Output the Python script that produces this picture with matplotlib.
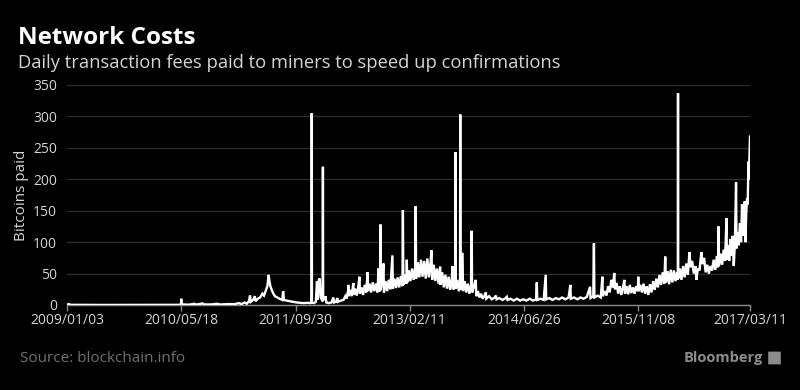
import matplotlib
matplotlib.use("Agg")
import matplotlib.pyplot as plt
import matplotlib.patches as mpatches
import pandas as pd

# ---------------- data ----------------
dates_early = ["2009-01-03", "2009-01-09", "2009-01-20", "2009-06-01", "2009-12-01",
               "2010-05-10", "2010-05-17", "2010-05-18", "2010-05-19", "2010-06-20",
               "2010-07-15", "2010-07-22", "2010-08-20", "2010-08-27", "2010-10-01",
               "2010-10-20", "2010-11-05", "2010-12-10", "2011-01-05", "2011-01-25",
               "2011-02-05", "2011-02-20", "2011-03-01"]
fees_early = [0, 1.5, 0.3, 0.1, 0.2,
              0.3, 0.5, 10, 1, 0.5,
              2, 0.6, 2.5, 0.8, 1,
              2, 0.8, 1.5, 1.2, 3,
              1.5, 4, 2]

dates_2011 = ["2011-03-10", "2011-03-15", "2011-03-18", "2011-03-28", "2011-04-05",
              "2011-04-08", "2011-04-18", "2011-04-28", "2011-05-08", "2011-05-15",
              "2011-05-24", "2011-05-30", "2011-06-04", "2011-06-08", "2011-06-12",
              "2011-06-18", "2011-06-25", "2011-07-02", "2011-07-12", "2011-07-22",
              "2011-08-03", "2011-08-07", "2011-08-10", "2011-08-22", "2011-09-05",
              "2011-09-20", "2011-10-05", "2011-10-20", "2011-11-05", "2011-11-20",
              "2011-12-05", "2011-12-09", "2011-12-10", "2011-12-11", "2011-12-20",
              "2011-12-28", "2012-01-02", "2012-01-05", "2012-01-10", "2012-01-14",
              "2012-01-18", "2012-01-24", "2012-01-27", "2012-01-28", "2012-01-29",
              "2012-02-05", "2012-02-08", "2012-02-12", "2012-02-22", "2012-03-05",
              "2012-03-14", "2012-03-16", "2012-03-25", "2012-03-31", "2012-04-03",
              "2012-04-15", "2012-04-27", "2012-05-05"]
fees_2011 = [6, 15, 5, 8, 14,
             6, 10, 12, 18, 15,
             24, 30, 48, 38, 30,
             24, 18, 14, 12, 10,
             8, 22, 8, 7, 6,
             5, 4, 3.5, 3, 3.5,
             3, 4, 305, 4, 3,
             5, 38, 8, 40, 42,
             12, 8, 6, 220, 8,
             10, 14, 4, 3, 4,
             12, 4, 5, 11, 5,
             7, 8, 14]

dates_2012 = ["2012-05-10", "2012-05-17", "2012-05-18", "2012-05-19", "2012-05-26",
              "2012-06-02", "2012-06-09", "2012-06-10", "2012-06-17", "2012-06-24",
              "2012-07-01", "2012-07-06", "2012-07-08", "2012-07-15", "2012-07-22",
              "2012-07-29", "2012-08-05", "2012-08-10", "2012-08-12", "2012-08-19",
              "2012-08-26", "2012-09-02", "2012-09-09", "2012-09-16", "2012-09-23",
              "2012-09-27", "2012-09-29", "2012-10-05", "2012-10-06", "2012-10-07",
              "2012-10-13", "2012-10-19", "2012-10-21", "2012-10-28", "2012-11-04",
              "2012-11-11", "2012-11-18", "2012-11-27", "2012-11-29", "2012-12-06",
              "2012-12-13", "2012-12-20", "2012-12-27"]
fees_2012 = [10, 22, 32, 14, 24,
             14, 35, 16, 26, 15,
             30, 45, 18, 28, 16,
             32, 20, 52, 22, 34,
             20, 36, 22, 34, 20,
             58, 24, 22, 128, 25,
             36, 66, 20, 38, 22,
             40, 25, 79, 26, 42,
             27, 44, 28]

dates_2013 = ["2013-01-03", "2013-01-10", "2013-01-12", "2013-01-14", "2013-01-21",
              "2013-01-28", "2013-01-29", "2013-01-31", "2013-02-07", "2013-02-14",
              "2013-02-21", "2013-02-28", "2013-03-07", "2013-03-09", "2013-03-11",
              "2013-03-18", "2013-03-25", "2013-04-01", "2013-04-08", "2013-04-15",
              "2013-04-22", "2013-04-29", "2013-05-06", "2013-05-13", "2013-05-17",
              "2013-05-20", "2013-05-27", "2013-06-03", "2013-06-10", "2013-06-17",
              "2013-06-24", "2013-06-26", "2013-07-03", "2013-07-10", "2013-07-17",
              "2013-07-24", "2013-07-31", "2013-08-07", "2013-08-14", "2013-08-17",
              "2013-08-20", "2013-08-29", "2013-08-30", "2013-08-31", "2013-09-07",
              "2013-09-14", "2013-09-19", "2013-09-20", "2013-09-21", "2013-09-30",
              "2013-10-02", "2013-10-09", "2013-10-16", "2013-10-23", "2013-10-30",
              "2013-11-06", "2013-11-09", "2013-11-11", "2013-11-18", "2013-11-27",
              "2013-11-29", "2013-12-06", "2013-12-13", "2013-12-20", "2013-12-27"]
fees_2013 = [46, 30, 151, 32, 48,
             34, 72, 36, 55, 38,
             58, 40, 60, 157, 42,
             68, 44, 72, 45, 70,
             42, 74, 44, 68, 87,
             40, 64, 38, 58, 34,
             61, 32, 52, 28, 48,
             26, 45, 24, 42, 62,
             25, 28, 243, 26, 40,
             22, 30, 303, 24, 83,
             22, 38, 20, 34, 18,
             32, 118, 20, 28, 40,
             14, 22, 12, 18, 10]

dates_2014 = ["2014-01-03", "2014-01-10", "2014-01-12", "2014-01-24", "2014-02-05",
              "2014-02-18", "2014-02-23", "2014-02-26", "2014-03-10", "2014-03-24",
              "2014-04-07", "2014-04-12", "2014-04-15", "2014-04-28", "2014-05-12",
              "2014-05-26", "2014-06-09", "2014-06-23", "2014-07-07", "2014-07-21",
              "2014-08-04", "2014-08-18", "2014-08-21", "2014-08-23", "2014-09-06",
              "2014-09-20", "2014-09-29", "2014-10-01", "2014-10-15", "2014-10-29",
              "2014-11-12", "2014-11-26", "2014-12-10", "2014-12-24", "2015-01-07",
              "2015-01-15", "2015-01-17", "2015-01-31", "2015-02-14", "2015-02-28",
              "2015-03-14", "2015-03-28", "2015-04-11", "2015-04-13", "2015-04-25",
              "2015-04-28", "2015-04-30", "2015-05-14", "2015-05-28", "2015-06-04",
              "2015-06-06", "2015-06-15"]
fees_2014 = [14, 20, 10, 14, 9,
             12, 15, 9, 11, 8,
             11, 13, 8, 10, 7,
             10, 7, 9, 7, 10,
             7, 9, 36, 8, 10,
             8, 48, 9, 11, 8,
             11, 9, 12, 9, 12,
             32, 10, 12, 9, 12,
             10, 13, 29, 11, 14,
             98, 12, 15, 12, 45,
             14, 22]

dates_2015 = ["2015-06-22", "2015-06-29", "2015-07-06", "2015-07-13", "2015-07-20",
              "2015-07-26", "2015-07-29", "2015-08-05", "2015-08-12", "2015-08-19",
              "2015-08-26", "2015-09-02", "2015-09-08", "2015-09-11", "2015-09-18",
              "2015-09-25", "2015-10-02", "2015-10-09", "2015-10-16", "2015-10-23",
              "2015-10-30", "2015-11-06", "2015-11-08", "2015-11-10", "2015-11-17",
              "2015-11-24", "2015-12-01", "2015-12-08", "2015-12-15", "2015-12-22",
              "2015-12-29"]
fees_2015 = [15, 30, 20, 40, 28,
             51, 25, 35, 18, 30,
             16, 28, 40, 18, 30,
             17, 32, 19, 28, 18,
             30, 22, 45, 22, 32,
             20, 34, 18, 30, 16,
             33]

dates_2016 = ["2016-01-05", "2016-01-12", "2016-01-19", "2016-01-26", "2016-02-02",
              "2016-02-09", "2016-02-16", "2016-02-23", "2016-03-01", "2016-03-05",
              "2016-03-08", "2016-03-15", "2016-03-22", "2016-03-29", "2016-04-05",
              "2016-04-12", "2016-04-19", "2016-04-26", "2016-04-29", "2016-04-30",
              "2016-05-01", "2016-05-08", "2016-05-15", "2016-05-22", "2016-05-29",
              "2016-06-05", "2016-06-12", "2016-06-19", "2016-06-24", "2016-07-01",
              "2016-07-08", "2016-07-15", "2016-07-19", "2016-07-26", "2016-08-02",
              "2016-08-10", "2016-08-15", "2016-08-22", "2016-08-29", "2016-09-05",
              "2016-09-12", "2016-09-19", "2016-09-26", "2016-10-03", "2016-10-10",
              "2016-10-17", "2016-10-22", "2016-10-24", "2016-10-26", "2016-11-02",
              "2016-11-09", "2016-11-16", "2016-11-22", "2016-11-28", "2016-11-30",
              "2016-12-05", "2016-12-10", "2016-12-15", "2016-12-20", "2016-12-25",
              "2016-12-30"]
fees_2016 = [20, 38, 24, 42, 28,
             48, 32, 52, 34, 77,
             36, 54, 33, 56, 36,
             55, 38, 52, 40, 337,
             42, 58, 40, 62, 44,
             66, 48, 84, 60, 70,
             50, 62, 40, 58, 55,
             84, 65, 75, 52, 64,
             50, 62, 55, 72, 56,
             78, 60, 125, 62, 82,
             64, 88, 70, 138, 72,
             95, 70, 105, 78, 110,
             62]

dates_2017 = ["2017-01-04", "2017-01-09", "2017-01-11", "2017-01-16", "2017-01-21",
              "2017-01-26", "2017-01-31", "2017-02-04", "2017-02-08", "2017-02-12",
              "2017-02-16", "2017-02-19", "2017-02-23", "2017-02-26", "2017-03-01",
              "2017-03-04", "2017-03-06", "2017-03-09", "2017-03-11"]
fees_2017 = [100, 195, 90, 115, 95,
             130, 100, 160, 140, 110,
             165, 100, 150, 170, 160,
             228, 200, 240, 268]

tick_dates = ["2009-01-03", "2010-05-18", "2011-09-30", "2013-02-11",
              "2014-06-26", "2015-11-08", "2017-03-11"]
tick_labels = ["2009/01/03", "2010/05/18", "2011/09/30", "2013/02/11",
               "2014/06/26", "2015/11/08", "2017/03/11"]
y_ticks = [0, 50, 100, 150, 200, 250, 300, 350]

# ---------------- assemble ----------------
all_dates = (dates_early + dates_2011 + dates_2012 + dates_2013 + dates_2014
             + dates_2015 + dates_2016 + dates_2017)
all_fees = (fees_early + fees_2011 + fees_2012 + fees_2013 + fees_2014
            + fees_2015 + fees_2016 + fees_2017)
x = pd.to_datetime(all_dates)

FONT = "Open Sans"
plt.rcParams["font.family"] = [FONT, "DejaVu Sans"]

fig = plt.figure(figsize=(8, 3.9), dpi=100, facecolor="black")
ax = fig.add_axes([67 / 800, 1 - 305 / 390, (750 - 67) / 800, 220 / 390])
ax.set_facecolor("black")

ax.plot(x, all_fees, color="white", lw=1.7, solid_joinstyle="miter", zorder=3)

ax.set_xlim(pd.Timestamp("2009-01-03"), pd.Timestamp("2017-03-11"))
ax.set_ylim(0, 350)
ax.set_yticks(y_ticks)
ax.set_xticks(pd.to_datetime(tick_dates))
ax.set_xticklabels(tick_labels)

ax.yaxis.grid(True, color="#2e2e2e", lw=0.9)
ax.set_axisbelow(True)
for s in ["left", "right", "top"]:
    ax.spines[s].set_visible(False)
ax.spines["bottom"].set_color("#8a8a8a")
ax.spines["bottom"].set_linewidth(1.0)

ax.tick_params(axis="y", length=0, pad=7, labelcolor="#d4d4d4", labelsize=10)
ax.tick_params(axis="x", length=4, width=1, color="#8a8a8a", pad=2,
               labelcolor="#d4d4d4", labelsize=10)

ax.set_ylabel("Bitcoins paid", color="#d4d4d4", fontsize=11, labelpad=3)

fig.text(18 / 800, 1 - 44 / 390, "Network Costs", color="white", fontsize=17.5,
         fontweight="bold", ha="left", va="baseline")
fig.text(18 / 800, 1 - 68 / 390,
         "Daily transaction fees paid to miners to speed up confirmations",
         color="#d4d4d4", fontsize=13.2, ha="left", va="baseline")
fig.text(20 / 800, 1 - 362 / 390, "Source: blockchain.info", color="#707070",
         fontsize=11, ha="left", va="baseline")
fig.text(763 / 800, 1 - 362 / 390, "Bloomberg", color="#8c8c8c",
         fontsize=10.5, fontweight="bold", ha="right", va="baseline")
icon = mpatches.FancyBboxPatch((769 / 800, 1 - 364 / 390), 11 / 800, 12 / 390,
                               boxstyle="round,pad=0.001", transform=fig.transFigure,
                               facecolor="#8c8c8c", edgecolor="none")
fig.patches.append(icon)

fig.savefig("out.png", dpi=100, facecolor="black")
